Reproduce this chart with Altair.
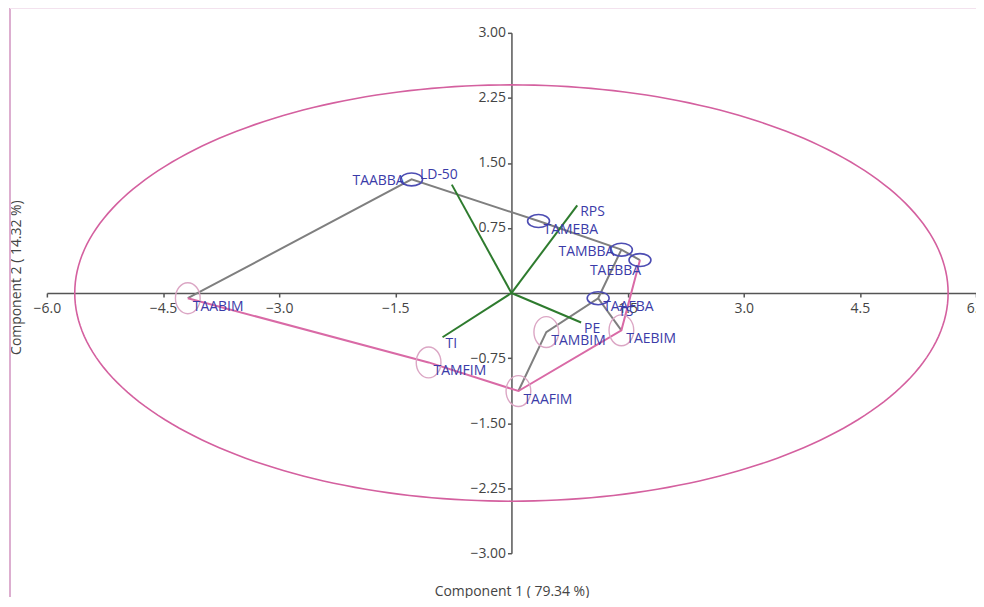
import altair as alt
import numpy as np
import pandas as pd

# ---- data ----
sample_names = ["TAABBA", "TAMEBA", "TAMBBA", "TAEBBA", "TAAFBA",
                "TAABIM", "TAMFIM", "TAAFIM", "TAMBIM", "TAEBIM"]
sample_pc1 = [-1.29, 0.35, 1.42, 1.66, 1.12, -4.18, -1.07, 0.09, 0.45, 1.42]
sample_pc2 = [1.31, 0.83, 0.50, 0.38, -0.06, -0.06, -0.80, -1.13, -0.45, -0.43]
sample_group = ["BA", "BA", "BA", "BA", "BA", "IM", "IM", "IM", "IM", "IM"]

loading_names = ["LD-50", "RPS", "PE", "TI", "TS"]
loading_pc1 = [-0.77, 0.85, 0.90, -0.89, 1.34]
loading_pc2 = [1.25, 1.01, -0.34, -0.51, -0.14]
loading_vector_visible = [True, True, True, True, False]

# connecting lines (by sample name)
gray_paths = [["TAABIM", "TAABBA", "TAMEBA", "TAMBBA", "TAEBBA"],
              ["TAMBBA", "TAAFBA", "TAMBIM", "TAAFIM"],
              ["TAAFBA", "TAEBIM"]]
pink_paths = [["TAABIM", "TAMFIM", "TAAFIM", "TAEBIM", "TAEBBA"]]

ellipse_center = [0.0, 0.0]
ellipse_radii = [5.64, 2.40]

x_ticks = [-6.0, -4.5, -3.0, -1.5, 1.5, 3.0, 4.5, 6.0]
y_ticks = [3.0, 2.25, 1.5, 0.75, -0.75, -1.5, -2.25, -3.0]

# ---- tables ----
samples = pd.DataFrame({"name": sample_names, "pc1": sample_pc1,
                        "pc2": sample_pc2, "group": sample_group})
pos = samples.set_index("name")

def path_table(paths):
    rows = []
    for pid, p in enumerate(paths):
        for k, n in enumerate(p):
            rows.append({"pid": pid, "ord": k, "pc1": pos.loc[n, "pc1"], "pc2": pos.loc[n, "pc2"]})
    return pd.DataFrame(rows)

gray_df = path_table(gray_paths)
pink_df = path_table(pink_paths)

loadings = pd.DataFrame({"name": loading_names, "pc1": loading_pc1, "pc2": loading_pc2,
                         "vis": loading_vector_visible})
loadings["o1"] = 0.0
loadings["o2"] = 0.0

t = np.linspace(0, 2 * np.pi, 241)
ell = pd.DataFrame({"ord": np.arange(len(t)),
                    "pc1": ellipse_center[0] + ellipse_radii[0] * np.cos(t),
                    "pc2": ellipse_center[1] + ellipse_radii[1] * np.sin(t)})

W, H = 932, 522
FONT = "Open Sans"
AX = "#555555"
LAB = "#3b3ba8"

x_axis = alt.Axis(values=x_ticks, format=".1f", offset=-H / 2, grid=False,
                  domainColor=AX, domainWidth=1.5, tickColor=AX, tickWidth=1.5, tickSize=4,
                  labelFont=FONT, labelFontSize=14, labelColor="#444444", labelPadding=5,
                  labelFlush=False, labelOverlap=False,
                  title="Component 1 ( 79.34 %)", titleFont=FONT, titleFontSize=14,
                  titleFontWeight="normal", titleColor="#444444",
                  titleY=299, titleBaseline="middle")
y_axis = alt.Axis(values=y_ticks, format=".2f", offset=-W / 2, grid=False,
                  domainColor=AX, domainWidth=1.5, tickColor=AX, tickWidth=1.5, tickSize=4,
                  labelFont=FONT, labelFontSize=14, labelColor="#444444", labelPadding=2,
                  labelFlush=False, labelOverlap=False,
                  title="Component 2 ( 14.32 %)", titleFont=FONT, titleFontSize=14,
                  titleFontWeight="normal", titleColor="#444444",
                  titleX=-496, titleY=245, titleBaseline="middle")

xs = alt.Scale(domain=[-6, 6], nice=False, zero=False)
ys = alt.Scale(domain=[-3, 3], nice=False, zero=False)

def X(f="pc1"):
    return alt.X(f"{f}:Q", scale=xs, axis=x_axis)

def Y(f="pc2"):
    return alt.Y(f"{f}:Q", scale=ys, axis=y_axis)

big_ellipse = alt.Chart(ell).mark_line(color="#d4609f", strokeWidth=1.6).encode(
    x=X(), y=Y(), order="ord:Q")

gray_lines = alt.Chart(gray_df).mark_line(color="#7f7f7f", strokeWidth=2).encode(
    x=X(), y=Y(), detail="pid:N", order="ord:Q")
pink_lines = alt.Chart(pink_df).mark_line(color="#d96aa6", strokeWidth=2).encode(
    x=X(), y=Y(), detail="pid:N", order="ord:Q")

vectors = alt.Chart(loadings[loadings["vis"]]).mark_rule(color="#2e7b2e", strokeWidth=2).encode(
    x=X("o1"), y=Y("o2"), x2="pc1:Q", y2="pc2:Q")

blue_shape = "M-1,0A1,0.59,0,1,1,1,0A1,0.59,0,1,1,-1,0Z"
pink_shape = "M-0.8,0A0.8,1,0,1,1,0.8,0A0.8,1,0,1,1,-0.8,0Z"

ba_marks = alt.Chart(samples[samples.group == "BA"]).mark_point(
    shape=blue_shape, size=484, filled=False, color="#4d4db3", strokeWidth=1.6, opacity=1
).encode(x=X(), y=Y())
im_marks = alt.Chart(samples[samples.group == "IM"]).mark_point(
    shape=pink_shape, size=961, filled=False, color="#dba6c4", strokeWidth=1.4, opacity=1
).encode(x=X(), y=Y())

left_labels = ["TAABBA", "TAMBBA"]
below_left_labels = ["TAEBBA"]
right_df = samples[~samples.name.isin(left_labels + below_left_labels)]

txt = dict(font=FONT, fontSize=14, color=LAB)
lab_br = alt.Chart(right_df).mark_text(align="left", baseline="middle", dx=5, dy=9, **txt).encode(
    x=X(), y=Y(), text="name:N")
lab_l = alt.Chart(samples[samples.name.isin(left_labels)]).mark_text(
    align="right", baseline="middle", dx=-7, dy=2, **txt).encode(x=X(), y=Y(), text="name:N")
lab_bl = alt.Chart(samples[samples.name.isin(below_left_labels)]).mark_text(
    align="right", baseline="middle", dx=1, dy=11, **txt).encode(x=X(), y=Y(), text="name:N")

above_loadings = ["LD-50"]
ld_br = alt.Chart(loadings[~loadings.name.isin(above_loadings)]).mark_text(
    align="left", baseline="middle", dx=3, dy=7, **txt).encode(x=X(), y=Y(), text="name:N")
ld_up = alt.Chart(loadings[loadings.name.isin(above_loadings)]).mark_text(
    align="right", baseline="middle", dx=6, dy=-10, **txt).encode(x=X(), y=Y(), text="name:N")

frame_v = alt.Chart(samples).mark_rule(color="#dcaed0", strokeWidth=1.2).encode(
    x=alt.value(-37), y=alt.value(-30), y2=alt.value(H + 44))
frame_h = alt.Chart(samples).mark_rule(color="#f4e2ee", strokeWidth=1).encode(
    x=alt.value(-37), x2=alt.value(W + 10), y=alt.value(-25))

chart = alt.layer(
    frame_v, frame_h, big_ellipse, gray_lines, pink_lines, vectors,
    ba_marks, im_marks, lab_br, lab_l, lab_bl, ld_br, ld_up
).properties(
    width=W, height=H,
    autosize=alt.AutoSizeParams(type="none"),
    padding={"left": 39, "top": 24, "right": 0, "bottom": 44},
    background="white",
).configure_view(stroke=None)

chart.save("out.html", embed_options={"renderer": "svg", "actions": False})
